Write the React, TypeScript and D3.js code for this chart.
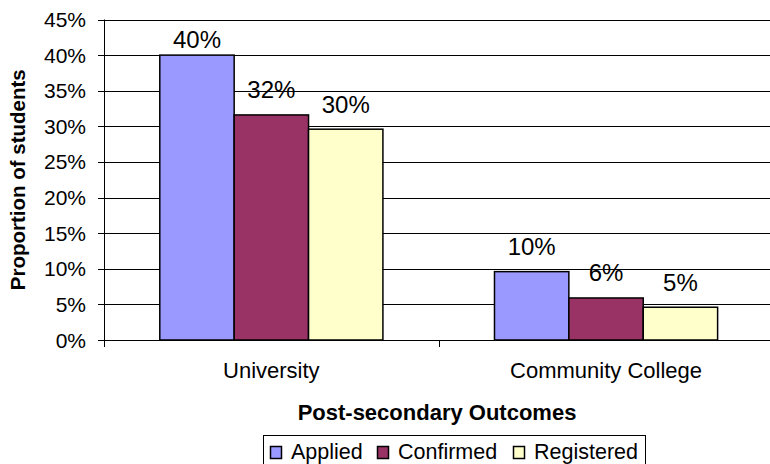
import * as d3 from "d3";

const categories = ["University", "Community College"];
const seriesNames = ["Applied", "Confirmed", "Registered"];
const seriesColors = ["#9999FF", "#993366", "#FFFFCC"];
const applied = [0.4, 0.096];
const confirmed = [0.316, 0.059];
const registered = [0.296, 0.046];
const yTickValues = [0, 0.05, 0.1, 0.15, 0.2, 0.25, 0.3, 0.35, 0.4, 0.45];

const W = 770;
const H = 464;
const plot = { left: 104, top: 19.5, right: 773.4, bottom: 340 };
const FONT = "'Liberation Sans', Arial, sans-serif";

export default function App() {
  const values = [applied, confirmed, registered];

  const y = d3.scaleLinear().domain([0, 0.45]).range([plot.bottom, plot.top]);
  const x = d3.scaleBand<string>().domain(categories).range([plot.left, plot.right]);
  // gap width 150% -> outer padding of 0.75 bar each side
  const xs = d3
    .scaleBand<string>()
    .domain(seriesNames)
    .range([0, x.bandwidth()])
    .paddingInner(0)
    .paddingOuter(0.75);
  const pct = d3.format(".0%");

  const crisp = (v: number) => Math.round(v) + 0.5;

  // legend layout
  const legX = 263;
  const legY = 435;
  const legItemX = [270, 377, 513];

  return (
    <svg
      width={W}
      height={H}
      style={{ position: "absolute", left: 0, top: 0, fontFamily: FONT }}
    >
      <rect width={W} height={H} fill="#fff" />

      {/* gridlines */}
      {yTickValues.slice(1).map((t) => (
        <line
          key={"g" + t}
          x1={plot.left}
          x2={W}
          y1={crisp(y(t))}
          y2={crisp(y(t))}
          stroke="#000"
          strokeWidth={1}
        />
      ))}

      {/* bars */}
      {categories.map((c, ci) => (
        <g key={c} transform={`translate(${x(c)},0)`}>
          {seriesNames.map((s, si) => {
            const v = values[si][ci];
            const bx = xs(s)!;
            const top = y(v);
            const labelY = Math.max(top - 16.5, plot.top + 28);
            return (
              <g key={s}>
                <rect
                  x={bx}
                  y={top}
                  width={xs.bandwidth()}
                  height={plot.bottom - top}
                  fill={seriesColors[si]}
                  stroke="#000"
                  strokeWidth={1.5}
                />
                <text
                  x={bx + xs.bandwidth() / 2}
                  y={labelY}
                  textAnchor="middle"
                  fontSize={24}
                  fill="#000"
                >
                  {pct(v)}
                </text>
              </g>
            );
          })}
        </g>
      ))}

      {/* y axis */}
      <line x1={crisp(plot.left)} x2={crisp(plot.left)} y1={plot.top} y2={plot.bottom} stroke="#000" />
      {yTickValues.map((t) => (
        <g key={"t" + t}>
          <line x1={plot.left - 6} x2={plot.left} y1={crisp(y(t))} y2={crisp(y(t))} stroke="#000" />
          <text
            x={plot.left - 18}
            y={y(t) + 7.5}
            textAnchor="end"
            fontSize={21}
            fill="#000"
          >
            {pct(t)}
          </text>
        </g>
      ))}

      {/* x axis */}
      <line x1={plot.left} x2={W} y1={crisp(plot.bottom)} y2={crisp(plot.bottom)} stroke="#000" />
      {categories.map((c) => (
        <line
          key={"xt" + c}
          x1={crisp(x(c)!)}
          x2={crisp(x(c)!)}
          y1={plot.bottom}
          y2={plot.bottom + 7}
          stroke="#000"
        />
      ))}
      {categories.map((c) => (
        <text
          key={"xl" + c}
          x={x(c)! + x.bandwidth() / 2}
          y={378}
          textAnchor="middle"
          fontSize={22}
          fill="#000"
        >
          {c}
        </text>
      ))}

      {/* axis titles */}
      <text x={437} y={420} textAnchor="middle" fontSize={22} fontWeight="bold" fill="#000">
        Post-secondary Outcomes
      </text>
      <text
        transform={`translate(${25},${(plot.top + plot.bottom) / 2}) rotate(-90)`}
        textAnchor="middle"
        fontSize={20.5}
        fontWeight="bold"
        fill="#000"
      >
        Proportion of students
      </text>

      {/* legend */}
      <rect x={legX + 0.5} y={legY + 0.5} width={382} height={40} fill="#fff" stroke="#000" />
      {seriesNames.map((s, i) => (
        <g key={"lg" + s}>
          <rect
            x={legItemX[i] + 0.5}
            y={446.5}
            width={11}
            height={12}
            fill={seriesColors[i]}
            stroke="#000"
            strokeWidth={1.5}
          />
          <text x={legItemX[i] + 21} y={458.5} fontSize={21.5} fill="#000">
            {s}
          </text>
        </g>
      ))}
    </svg>
  );
}
